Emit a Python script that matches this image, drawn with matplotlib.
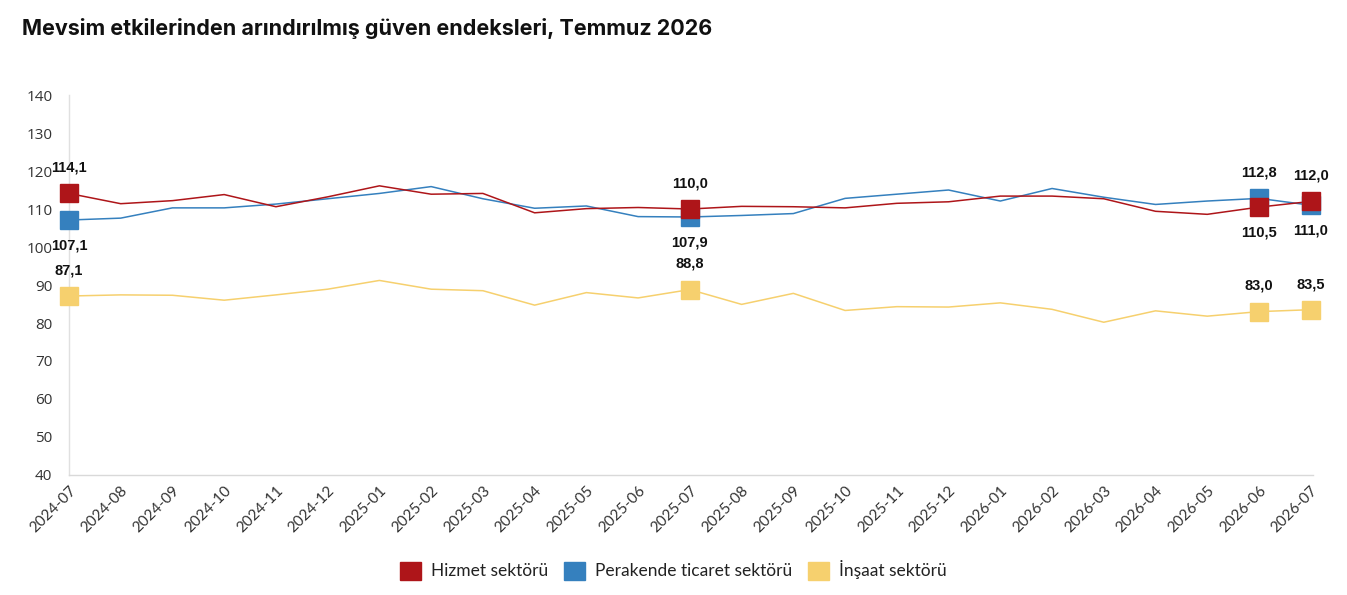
import matplotlib
matplotlib.use("Agg")
import matplotlib.pyplot as plt
from matplotlib.patches import Patch

months = ["2024-07", "2024-08", "2024-09", "2024-10", "2024-11", "2024-12",
          "2025-01", "2025-02", "2025-03", "2025-04", "2025-05", "2025-06",
          "2025-07", "2025-08", "2025-09", "2025-10", "2025-11", "2025-12",
          "2026-01", "2026-02", "2026-03", "2026-04", "2026-05", "2026-06",
          "2026-07"]

hizmet = [114.1, 111.4, 112.2, 113.8, 110.6, 113.2, 116.1, 113.9, 114.1, 109.0,
          110.1, 110.4, 110.0, 110.7, 110.6, 110.3, 111.5, 111.9, 113.4, 113.4,
          112.7, 109.4, 108.6, 110.5, 112.0]
perakende = [107.1, 107.6, 110.3, 110.3, 111.3, 112.7, 114.1, 115.9, 112.7, 110.2,
             110.8, 108.0, 107.9, 108.3, 108.8, 112.8, 113.9, 115.0, 112.1, 115.4,
             113.1, 111.2, 112.1, 112.8, 111.0]
insaat = [87.1, 87.4, 87.3, 86.0, 87.4, 88.9, 91.2, 88.9, 88.5, 84.7,
          88.0, 86.6, 88.8, 84.9, 87.8, 83.3, 84.3, 84.2, 85.3, 83.6,
          80.2, 83.2, 81.8, 83.0, 83.5]

series_names = ["Hizmet sektörü", "Perakende ticaret sektörü", "İnşaat sektörü"]
colors = ["#AE1519", "#3580BE", "#F6D06E"]

marked_idx = [0, 12, 23, 24]
# label placement (+1 above, -1 below) for each marked index
place = {
    "hizmet":    {0: 1, 12: 1, 23: -1, 24: 1},
    "perakende": {0: -1, 12: -1, 23: 1, 24: -1},
    "insaat":    {0: 1, 12: 1, 23: 1, 24: 1},
}

fig = plt.figure(figsize=(13.47, 5.95), dpi=100)
ax = fig.add_axes([0.0512, 0.2017, 0.9238, 0.6386])

x = list(range(len(months)))
data = [("perakende", perakende, colors[1]),
        ("insaat", insaat, colors[2]),
        ("hizmet", hizmet, colors[0])]

for key, vals, c in data:
    ax.plot(x, vals, color=c, lw=1.1, zorder=2, clip_on=False)
    ax.plot([x[i] for i in marked_idx], [vals[i] for i in marked_idx],
            ls="none", marker="s", ms=12.5, color=c, mec=c, clip_on=False,
            zorder=3 if key != "hizmet" else 4)
    for i in marked_idx:
        s = place[key][i]
        ax.annotate(f"{vals[i]:.1f}".replace(".", ","), (x[i], vals[i]),
                    xytext=(0, 18.5 * s), textcoords="offset points",
                    ha="center", va="center", fontsize=10.5, fontweight="bold",
                    family="Liberation Sans", color="#111111", zorder=5)

ax.set_xlim(0, 24.05)
ax.set_ylim(40, 140)
ax.set_yticks(range(40, 141, 10))
ax.set_xticks(x)
ax.set_xticklabels(months, rotation=45, ha="right", rotation_mode="anchor",
                   fontsize=11, family="Lato", color="#333333")
for lab in ax.get_yticklabels():
    lab.set_family("Open Sans")
    lab.set_fontsize(11)
    lab.set_color("#333333")
ax.tick_params(axis="both", length=0)
ax.tick_params(axis="y", pad=12)
ax.tick_params(axis="x", pad=6)

for sp in ["top", "right"]:
    ax.spines[sp].set_visible(False)
ax.spines["left"].set_color("#e0e0e0")
ax.spines["bottom"].set_color("#d9d9d9")
ax.spines["left"].set_linewidth(1)
ax.spines["bottom"].set_linewidth(1)

fig.text(0.0163, 0.952, "Mevsim etkilerinden arındırılmış güven endeksleri, Temmuz 2026",
         fontsize=15.5, fontweight="bold", family="Inter", color="#111111",
         ha="left", va="center")

handles = [Patch(facecolor=c, edgecolor=c) for c in colors]
leg = fig.legend(handles, series_names, loc="center", bbox_to_anchor=(0.5, 0.042),
                 ncol=3, frameon=False, prop={"family": "Lato", "size": 12.5},
                 handlelength=1.2, handleheight=1.2, handletextpad=0.6,
                 columnspacing=0.9)
for t in leg.get_texts():
    t.set_color("#222222")

fig.savefig("out.png", dpi=100, facecolor="white")
